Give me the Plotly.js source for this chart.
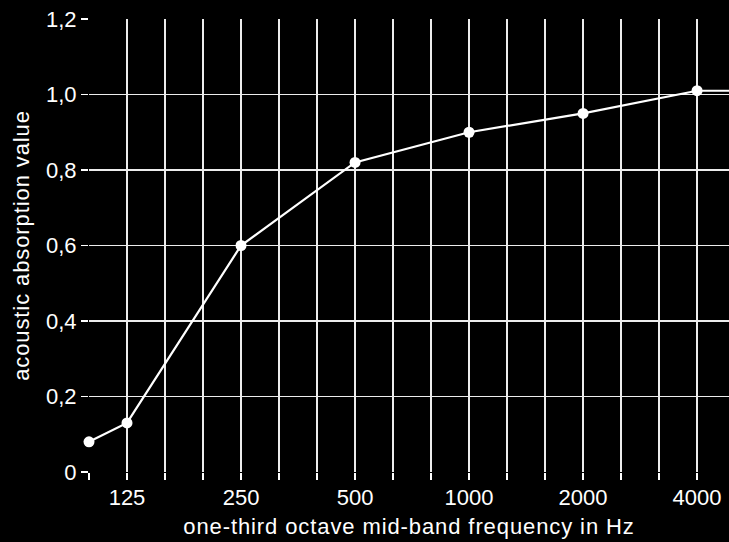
<!DOCTYPE html>
<html>
<head>
<meta charset="utf-8">
<script src="https://cdn.plot.ly/plotly-3.0.1.min.js"></script>
<style>
html,body{margin:0;padding:0;background:#000;}
#chart{width:729px;height:542px;}
.g-xtitle text, .g-ytitle text{letter-spacing:0.9px;}
</style>
</head>
<body>
<div id="chart"></div>
<script>
// one-third octave bands (Hz)
const bands = ["100","125","160","200","250","315","400","500","630","800","1000","1250","1600","2000","2500","3150","4000","5000"];
// measured points: band label and absorption value
const pointBands = ["100","125","250","500","1000","2000","4000","5000"];
const absorption = [0.08, 0.13, 0.60, 0.82, 0.90, 0.95, 1.01, 1.01];
const labelledBands = ["125","250","500","1000","2000","4000"];
const yTickVals = [0, 0.2, 0.4, 0.6, 0.8, 1.0, 1.2];
const yTickText = ["0", "0,2", "0,4", "0,6", "0,8", "1,0", "1,2"];

const xIdx = pointBands.map(b => bands.indexOf(b));
const tickVals = bands.map((b, i) => i);
const tickText = bands.map(b => labelledBands.includes(b) ? b : "");

const font = {family: "Liberation Sans, Arial, Helvetica, sans-serif", size: 22, color: "#ffffff"};

Plotly.newPlot("chart", [{
  x: xIdx,
  y: absorption,
  type: "scatter",
  mode: "lines+markers",
  line: {color: "#ffffff", width: 2.2},
  marker: {color: "#ffffff", size: 11},
  cliponaxis: false,
  hoverinfo: "skip"
}], {
  width: 729,
  height: 542,
  paper_bgcolor: "#000000",
  plot_bgcolor: "#000000",
  font: font,
  showlegend: false,
  margin: {l: 89, r: 0, t: 19, b: 70, pad: 0},
  xaxis: {
    range: [0, 16.84],
    tickmode: "array",
    tickvals: tickVals,
    ticktext: tickText,
    ticks: "outside",
    ticklen: 7,
    tickwidth: 1.2,
    tickcolor: "#ffffff",
    showgrid: true,
    gridcolor: "#ececec",
    gridwidth: 1.4,
    zeroline: false,
    showline: false,
    tickfont: font,
    ticklabelstandoff: -1,
    title: {text: "one-third octave mid-band frequency in Hz", font: font, standoff: 9}
  },
  yaxis: {
    range: [0, 1.2],
    tickmode: "array",
    tickvals: yTickVals,
    ticktext: yTickText,
    ticks: "outside",
    ticklen: 7,
    tickwidth: 1.2,
    tickcolor: "#ffffff",
    showgrid: true,
    gridcolor: "#ececec",
    gridwidth: 1.4,
    zeroline: false,
    showline: false,
    tickfont: font,
    title: {text: "acoustic absorption value", font: font, standoff: 10}
  }
}, {staticPlot: true, displayModeBar: false});
</script>
</body>
</html>
